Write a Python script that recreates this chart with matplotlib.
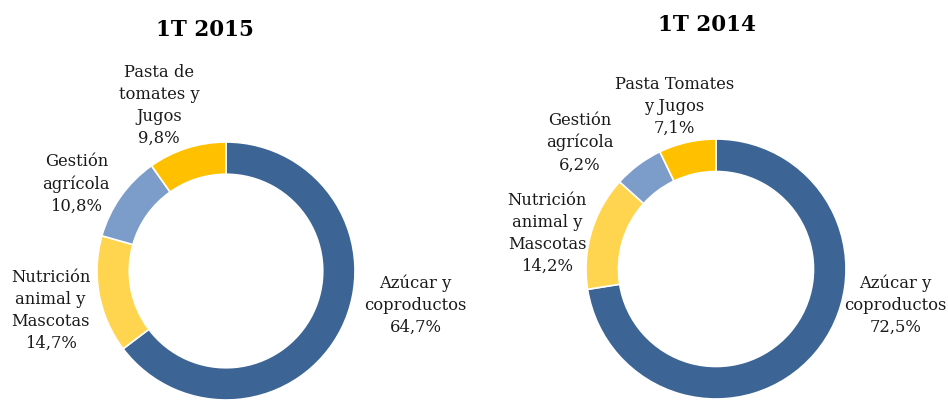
import matplotlib
matplotlib.use("Agg")
import matplotlib.pyplot as plt

# Data
segments = ["Azúcar y\ncoproductos", "Nutrición\nanimal y\nMascotas",
            "Gestión\nagrícola", None]
pasta_2015 = "Pasta de\ntomates y\nJugos"
pasta_2014 = "Pasta Tomates\ny Jugos"
shares_2015 = [64.7, 14.7, 10.8, 9.8]
shares_2014 = [72.5, 14.2, 6.2, 7.1]
colors = ["#3C6595", "#FFD54F", "#7C9CCA", "#FFC000"]

W, H = 948, 402

# label offsets relative to donut centre, in radius units
offsets_2015 = [(1.47, -0.26), (-1.36, -0.30), (-1.16, 0.68), (-0.52, 1.29)]
offsets_2014 = [(1.38, -0.27), (-1.30, 0.28), (-1.05, 0.98), (-0.32, 1.26)]

FONT = "DejaVu Serif"


def fmt(v):
    return ("%.1f%%" % v).replace(".", ",")


def donut(fig, cx, cy, r, values, names, offsets, title, title_xy):
    # cx, cy, r in pixels (cy from top)
    ax = fig.add_axes([(cx - r) / W, (H - cy - r) / H, 2 * r / W, 2 * r / H])
    wedges, _ = ax.pie(values, colors=colors, startangle=90, counterclock=False,
                       radius=1.0, wedgeprops=dict(width=0.25, edgecolor="white",
                                                   linewidth=1.2))
    ax.set_xlim(-1, 1)
    ax.set_ylim(-1, 1)
    ax.set_aspect("equal")
    ax.axis("off")
    for name, v, (dx, dy) in zip(names, values, offsets):
        ax.text(dx, dy, name + "\n" + fmt(v), ha="center", va="center",
                fontsize=11.8, family=FONT, color="#1a1a1a", linespacing=1.38,
                clip_on=False)
    fig.text(title_xy[0] / W, 1 - title_xy[1] / H, title, ha="center", va="center",
             fontsize=15.5, fontweight="bold", family=FONT)


def main():
    fig = plt.figure(figsize=(W / 100, H / 100), dpi=100)
    donut(fig, 226, 272, 129, shares_2015, segments[:3] + [pasta_2015],
          offsets_2015, "1T 2015", (205, 30))
    donut(fig, 716, 270, 130, shares_2014, segments[:3] + [pasta_2014],
          offsets_2014, "1T 2014", (707, 25))
    fig.savefig("out.png", dpi=100)


if __name__ == "__main__":
    main()
